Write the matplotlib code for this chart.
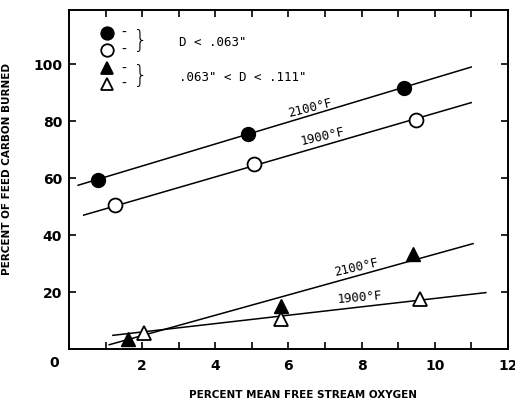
import matplotlib.pyplot as plt
from matplotlib.ticker import MultipleLocator

# data (percent oxygen, percent carbon burned)
fine_2100_x = [0.8, 4.9, 9.15]
fine_2100_y = [59.5, 75.5, 91.5]
fine_1900_x = [1.25, 5.05, 9.5]
fine_1900_y = [50.5, 65.0, 80.5]
coarse_2100_x = [1.6, 5.8, 9.4]
coarse_2100_y = [3.5, 15.0, 33.5]
coarse_1900_x = [2.05, 5.8, 9.6]
coarse_1900_y = [5.5, 10.5, 17.5]

# hand drawn fit lines (end points)
fit_fine_2100 = ([0.25, 11.0], [57.5, 99.0])
fit_fine_1900 = ([0.4, 11.0], [47.0, 86.5])
fit_coarse_2100 = ([1.1, 11.05], [1.5, 37.0])
fit_coarse_1900 = ([1.2, 11.4], [4.8, 19.8])

x_ticks = [2, 4, 6, 8, 10, 12]
y_ticks = [20, 40, 60, 80, 100]

fig = plt.figure(figsize=(5.15, 4.03), dpi=100)
ax = fig.add_axes([0.134, 0.134, 0.852, 0.841])

lw = 1.1
for fx, fy in [fit_fine_2100, fit_fine_1900, fit_coarse_2100, fit_coarse_1900]:
    ax.plot(fx, fy, color='black', lw=lw, zorder=2)

ms = 10
ax.plot(fine_2100_x, fine_2100_y, 'o', ms=ms, mfc='black', mec='black', zorder=3)
ax.plot(fine_1900_x, fine_1900_y, 'o', ms=ms, mfc='white', mec='black', mew=1.3, zorder=3)
ax.plot(coarse_2100_x, coarse_2100_y, '^', ms=ms, mfc='black', mec='black', zorder=3)
ax.plot(coarse_1900_x, coarse_1900_y, '^', ms=ms, mfc='white', mec='black', mew=1.3, zorder=3)

# curve labels
lab = dict(fontsize=9, family='DejaVu Sans Mono', ha='center', va='center')
ax.text(6.6, 84.5, '2100°F', rotation=14, **lab)
ax.text(6.95, 74.5, '1900°F', rotation=13, **lab)
ax.text(7.85, 28.5, '2100°F', rotation=13, **lab)
ax.text(7.95, 18.0, '1900°F', rotation=5, **lab)

# legend drawn by hand
leg_x = 1.05
leg_y = [111, 105, 98.5, 93]
leg_m = [('o', 'black'), ('o', 'white'), ('^', 'black'), ('^', 'white')]
for yy, (m, fc) in zip(leg_y, leg_m):
    ax.plot([leg_x], [yy], m, ms=9, mfc=fc, mec='black', mew=1.3, clip_on=False)
    ax.text(leg_x + 0.45, yy, '-', fontsize=10, va='center', ha='center')
ax.text(1.95, 108, '}', fontsize=17, va='center', ha='center', fontweight='light')
ax.text(1.95, 96, '}', fontsize=17, va='center', ha='center', fontweight='light')
ax.text(3.0, 107.5, 'D < .063"', fontsize=9, family='DejaVu Sans Mono', va='center')
ax.text(3.0, 95.5, '.063" < D < .111"', fontsize=9, family='DejaVu Sans Mono', va='center')

ax.set_xlim(0, 12)
ax.set_ylim(0, 119)
ax.set_xticks(x_ticks)
ax.set_yticks(y_ticks)
ax.xaxis.set_minor_locator(MultipleLocator(1))
ax.tick_params(which='both', direction='in', top=True, right=True, labelsize=10,
               width=1.2, length=5)
ax.tick_params(axis='x', pad=7)
ax.tick_params(axis='y', pad=5)
for t in ax.get_xticklabels() + ax.get_yticklabels():
    t.set_fontweight('bold')
    t.set_family('DejaVu Sans Condensed')
for s in ax.spines.values():
    s.set_linewidth(1.4)

# shared origin label
ax.text(-0.4, -5.0, '0', fontsize=10, fontweight='bold', family='DejaVu Sans Condensed',
        ha='center', va='center', clip_on=False)

ax.set_xlabel('PERCENT MEAN FREE STREAM OXYGEN', fontsize=7.5, fontweight='bold')
ax.xaxis.set_label_coords(0.533, -0.12)
ax.set_ylabel('PERCENT OF FEED CARBON BURNED', fontsize=7.5, fontweight='bold')
ax.yaxis.set_label_coords(-0.13, 0.53)

fig.savefig('out.png', dpi=100)
